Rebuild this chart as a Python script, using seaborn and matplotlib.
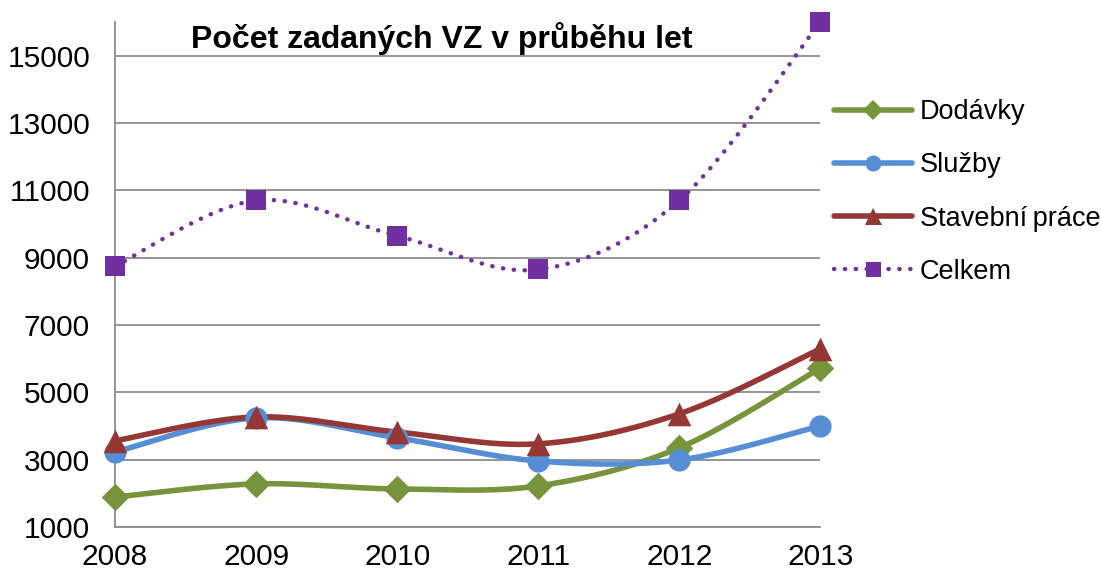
import numpy as np
import pandas as pd
import matplotlib.pyplot as plt
import seaborn as sns
from matplotlib.lines import Line2D

years = [2008, 2009, 2010, 2011, 2012, 2013]
dodavky = [1890, 2280, 2130, 2220, 3350, 5720]
sluzby = [3230, 4240, 3650, 2960, 2990, 4000]
stavebni = [3560, 4270, 3820, 3470, 4360, 6290]
celkem = [8750, 10700, 9650, 8650, 10700, 16000]

names = ['Dodávky', 'Služby', 'Stavební\u2009práce', 'Celkem']
colors = ['#77933C', '#558ED5', '#953735', '#7030A0']
markers = ['D', 'o', '^', 's']
msizes = [14, 16, 17, 15]

sns.set_style('white')
plt.rcParams['font.family'] = ['Liberation Sans', 'DejaVu Sans']
plt.rcParams['text.color'] = 'black'


def smooth(x, y, n=30):
    # excel-like smoothed line (cardinal bezier through the points)
    x = np.asarray(x, float)
    y = np.asarray(y, float)
    px, py = [], []
    for i in range(len(x) - 1):
        x0, y0 = (x[i - 1], y[i - 1]) if i > 0 else (x[i], y[i])
        x3, y3 = (x[i + 2], y[i + 2]) if i + 2 < len(x) else (x[i + 1], y[i + 1])
        c1x = x[i] + (x[i + 1] - x0) / 6
        c1y = y[i] + (y[i + 1] - y0) / 6
        c2x = x[i + 1] - (x3 - x[i]) / 6
        c2y = y[i + 1] - (y3 - y[i]) / 6
        t = np.linspace(0, 1, n)
        b0, b1, b2, b3 = (1 - t) ** 3, 3 * t * (1 - t) ** 2, 3 * t ** 2 * (1 - t), t ** 3
        px.extend(b0 * x[i] + b1 * c1x + b2 * c2x + b3 * x[i + 1])
        py.extend(b0 * y[i] + b1 * c1y + b2 * c2y + b3 * y[i + 1])
    return np.array(px), np.array(py)


dots = (0, (0.05, 2.4))

fig = plt.figure(figsize=(11.01, 5.77), dpi=100)
ax = fig.add_axes([0.1045, 0.0867, 0.6405, 0.875])

series = [dodavky, sluzby, stavebni, celkem]
for vals, name, c, m, ms in zip(series, names, colors, markers, msizes):
    sx, sy = smooth(years, vals)
    if name == 'Celkem':
        ax.plot(sx, sy, color=c, lw=3.2, linestyle=dots,
                dash_capstyle='round', zorder=2)
    else:
        ax.plot(sx, sy, color=c, lw=4, solid_capstyle='round', zorder=2)
    df = pd.DataFrame({'rok': years, 'pocet': vals})
    sns.scatterplot(data=df, x='rok', y='pocet', ax=ax, color=c, marker=m,
                    s=ms ** 2, edgecolor=c, linewidth=0, zorder=3, clip_on=False)

ax.set_xlim(2008, 2013)
ax.set_ylim(1000, 16000)
ax.set_yticks(range(1000, 16000, 2000))
ax.set_xticks(years)
ax.yaxis.grid(True, color='#8c8c8c', lw=1.3)
ax.set_xlabel('')
ax.set_ylabel('')
for s in ['top', 'right']:
    ax.spines[s].set_visible(False)
for s in ['left', 'bottom']:
    ax.spines[s].set_color('#8c8c8c')
    ax.spines[s].set_linewidth(1.3)
ax.tick_params(axis='both', direction='out', length=6.5, width=1.3,
               color='#8c8c8c', labelcolor='black', labelsize=21.5)
ax.tick_params(axis='y', pad=11.5)
ax.tick_params(axis='x', pad=5)

fig.text(0.4015, 0.934, 'Počet zadaných VZ v průběhu let', ha='center',
         va='center', fontsize=23, fontweight='bold', color='black')

handles = []
for name, c, m, ms in zip(names, colors, markers, msizes):
    ls = dots if name == 'Celkem' else '-'
    lw = 3.2 if name == 'Celkem' else 4
    handles.append(Line2D([], [], color=c, lw=lw, linestyle=ls, marker=m,
                          markersize=ms * 0.72, markeredgewidth=0,
                          dash_capstyle='round', solid_capstyle='round'))
leg = fig.legend(handles, names, loc='upper left', bbox_to_anchor=(0.7357, 0.870),
                 frameon=False, fontsize=19.5, handlelength=2.85,
                 handletextpad=0.3, labelspacing=1.0)
for t in leg.get_texts():
    t.set_color('black')

plt.savefig('out.png', dpi=100)
